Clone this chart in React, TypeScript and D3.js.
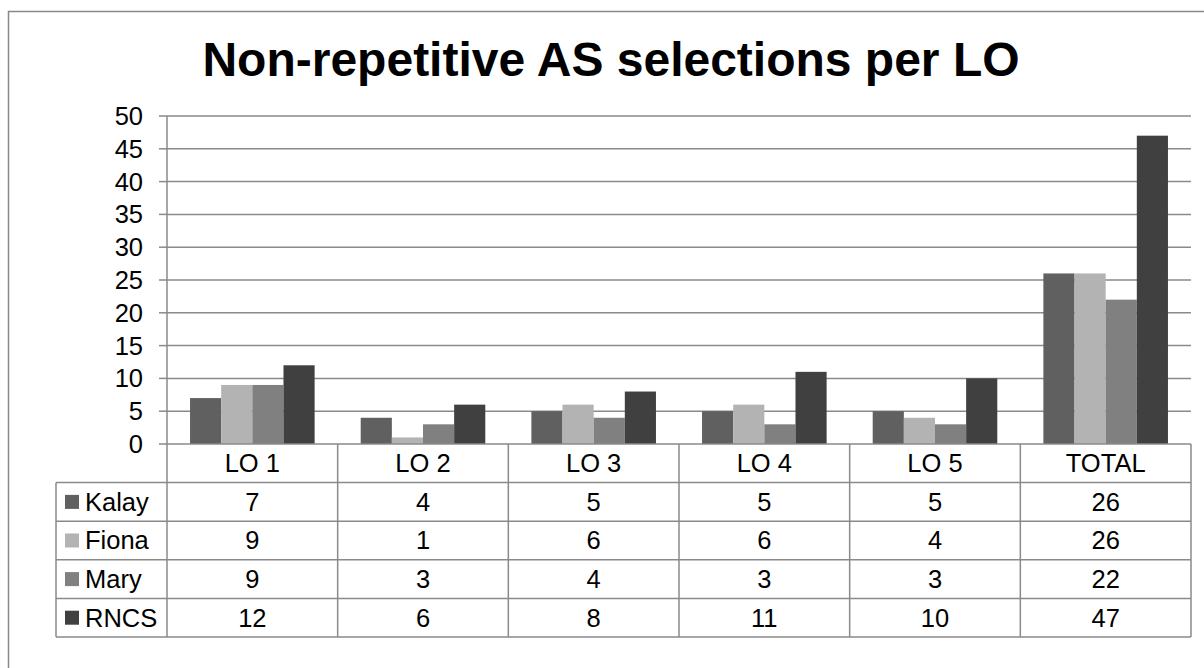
import React from "react";
import * as d3 from "d3";

const title = "Non-repetitive AS selections per LO";
const categories = ["LO 1", "LO 2", "LO 3", "LO 4", "LO 5", "TOTAL"];
const seriesNames = ["Kalay", "Fiona", "Mary", "RNCS"];
const kalay = [7, 4, 5, 5, 5, 26];
const fiona = [9, 1, 6, 6, 4, 26];
const mary = [9, 3, 4, 3, 3, 22];
const rncs = [12, 6, 8, 11, 10, 47];
const seriesValues = [kalay, fiona, mary, rncs];
const seriesColors = ["#606060", "#b3b3b3", "#808080", "#404040"];
const yTicks = [0, 5, 10, 15, 20, 25, 30, 35, 40, 45, 50];

const W = 1204;
const H = 668;
const plotL = 167;
const plotR = 1191;
const plotT = 116;
const plotB = 444;
const tableL = 56;
const rowH = 38.6;
const FONT = "'Liberation Sans', Arial, sans-serif";
const FS = 25.5;
const gridColor = "#8a8a8a";

export default function App() {
  const x0 = d3.scaleBand<string>().domain(categories).range([plotL, plotR]).padding(0);
  const bw = x0.bandwidth();
  const x1 = d3
    .scaleBand<string>()
    .domain(seriesNames)
    .range([bw * 0.135, bw * (1 - 0.135)])
    .padding(0);
  const y = d3.scaleLinear().domain([0, 50]).range([plotB, plotT]);

  const rowsTop = plotB + rowH;
  const tableBottom = plotB + rowH * 5;

  return (
    <svg
      width={W}
      height={H}
      style={{ position: "absolute", left: 0, top: 0, background: "#fff" }}
      fontFamily={FONT}
    >
      <rect x={0} y={0} width={W} height={H} fill="#fff" />
      {/* outer chart border */}
      <rect x={8.5} y={11.5} width={W + 20} height={H + 20} fill="none" stroke="#888" strokeWidth={1.5} />

      <text x={611} y={76} textAnchor="middle" fontSize={48} fontWeight="bold" fill="#000">
        {title}
      </text>

      {/* gridlines and ticks */}
      {yTicks.map((t) => (
        <g key={t}>
          {t > 0 && (
            <line x1={plotL} x2={plotR} y1={y(t)} y2={y(t)} stroke={gridColor} strokeWidth={1.5} />
          )}
          <line x1={159} x2={plotL} y1={y(t)} y2={y(t)} stroke={gridColor} strokeWidth={1.5} />
          <text x={143} y={y(t)} dy="0.35em" textAnchor="end" fontSize={FS} fill="#000">
            {t}
          </text>
        </g>
      ))}

      {/* bars */}
      {seriesNames.map((s, si) =>
        categories.map((c, ci) => (
          <rect
            key={s + c}
            x={(x0(c) as number) + (x1(s) as number)}
            y={y(seriesValues[si][ci])}
            width={x1.bandwidth()}
            height={plotB - y(seriesValues[si][ci])}
            fill={seriesColors[si]}
          />
        ))
      )}

      {/* axis line */}
      <line x1={plotL} x2={plotR} y1={plotB} y2={plotB} stroke={gridColor} strokeWidth={1.5} />
      <line x1={plotL} x2={plotL} y1={plotT} y2={tableBottom} stroke={gridColor} strokeWidth={1.5} />

      {/* data table */}
      {d3.range(1, 6).map((r) => (
        <line
          key={"h" + r}
          x1={tableL}
          x2={plotR}
          y1={plotB + rowH * r}
          y2={plotB + rowH * r}
          stroke={gridColor}
          strokeWidth={1.5}
        />
      ))}
      <line x1={tableL} x2={tableL} y1={rowsTop} y2={tableBottom} stroke={gridColor} strokeWidth={1.5} />
      {categories.map((c) => (
        <line
          key={"v" + c}
          x1={(x0(c) as number) + bw}
          x2={(x0(c) as number) + bw}
          y1={plotB}
          y2={tableBottom}
          stroke={gridColor}
          strokeWidth={1.5}
        />
      ))}
      {categories.map((c) => (
        <text
          key={"hd" + c}
          x={(x0(c) as number) + bw / 2}
          y={plotB + rowH / 2}
          dy="0.35em"
          textAnchor="middle"
          fontSize={FS}
          fill="#000"
        >
          {c}
        </text>
      ))}
      {seriesNames.map((s, si) => {
        const cy = rowsTop + rowH * si + rowH / 2;
        return (
          <g key={"row" + s}>
            <rect x={65} y={cy - 7} width={14} height={14} fill={seriesColors[si]} />
            <text x={85} y={cy} dy="0.35em" fontSize={FS} fill="#000">
              {s}
            </text>
            {categories.map((c, ci) => (
              <text
                key={s + c + "v"}
                x={(x0(c) as number) + bw / 2}
                y={cy}
                dy="0.35em"
                textAnchor="middle"
                fontSize={FS}
                fill="#000"
              >
                {seriesValues[si][ci]}
              </text>
            ))}
          </g>
        );
      })}
    </svg>
  );
}
